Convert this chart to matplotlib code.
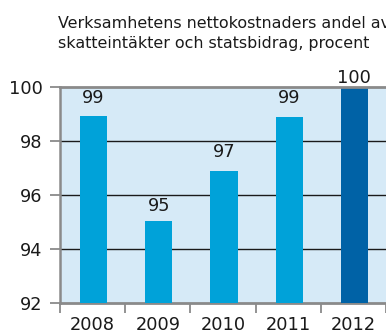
import matplotlib
matplotlib.use("Agg")
import matplotlib.pyplot as plt
from matplotlib.ticker import FixedLocator, NullFormatter

years = ["2008", "2009", "2010", "2011", "2012"]
values = [98.93, 95.04, 96.9, 98.9, 100.0]
labels = ["99", "95", "97", "99", "100"]
bar_colors = ["#00a2d9", "#00a2d9", "#00a2d9", "#00a2d9", "#0062a6"]
title = "Verksamhetens nettokostnaders andel av\nskatteintäkter och statsbidrag, procent"

W, H, DPI = 386, 334, 100
fig = plt.figure(figsize=(W / DPI, H / DPI), dpi=DPI)
fig.patch.set_facecolor("white")

# plot area: left edge at 60 px, runs past the right edge of the figure
left_px, right_px, top_px, bottom_px = 60, 400, 87, 303
ax = fig.add_axes([left_px / W, 1 - bottom_px / H,
                   (right_px - left_px) / W, (bottom_px - top_px) / H])
ax.set_facecolor("#d6eaf7")

cat_px = 65.2
x = list(range(len(years)))
ax.bar([xi + 0.015 for xi in x], [v - 92 for v in values], bottom=92,
       width=0.415, color=bar_colors, zorder=3)

ax.set_xlim(-0.5, -0.5 + (right_px - left_px) / cat_px)
ax.set_ylim(92, 100)

# horizontal grid lines
for y in (94, 96, 98):
    ax.axhline(y, color="#1a1a1a", lw=1.0, zorder=2)

grey = "#8a8a8a"
for s in ("top", "right"):
    ax.spines[s].set_visible(False)
ax.axhline(100, color=grey, lw=2.0, zorder=4, clip_on=False)
ax.spines["left"].set_color(grey)
ax.spines["left"].set_linewidth(1.8)
ax.spines["bottom"].set_color(grey)
ax.spines["bottom"].set_linewidth(2.0)

ax.set_yticks([92, 94, 96, 98, 100])
ax.tick_params(axis="y", length=7.5, width=1.3, color=grey, pad=5,
               labelsize=12.8, labelcolor="#1a1a1a")

# category labels centred, tick marks on category boundaries
ax.set_xticks(x)
ax.set_xticklabels(years)
ax.tick_params(axis="x", which="major", length=0, pad=9,
               labelsize=12.8, labelcolor="#1a1a1a")
ax.xaxis.set_minor_locator(FixedLocator([i - 0.5 for i in range(len(years) + 1)]))
ax.xaxis.set_minor_formatter(NullFormatter())
ax.tick_params(axis="x", which="minor", length=7.5, width=1.3, color=grey)

for xi, v, lab in zip(x, values, labels):
    ly = min(round(v) + 0.6, 100.35)
    ax.text(xi + 0.015, ly, lab, ha="center", va="center", fontsize=12.8,
            color="#1a1a1a", zorder=5, clip_on=False)

fig.text(58 / W, 1 - 16 / H, title, ha="left", va="top", fontsize=11.4,
         color="#1a1a1a", linespacing=1.45)

fig.savefig("out.png", dpi=DPI)
